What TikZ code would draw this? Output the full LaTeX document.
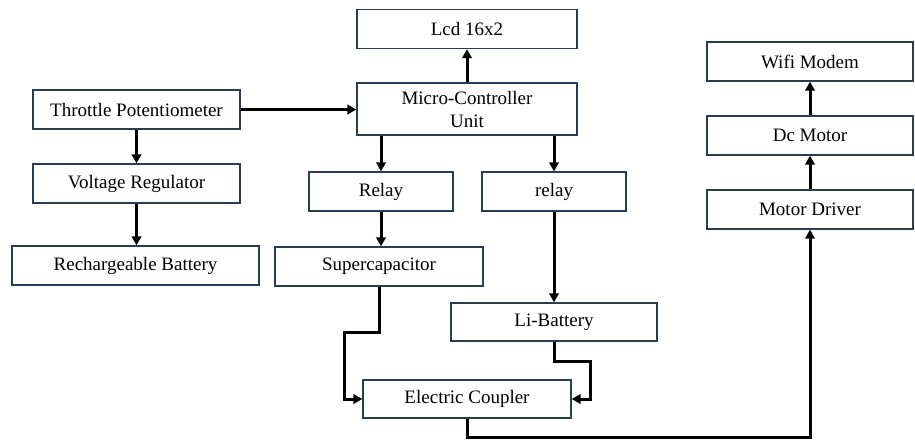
\documentclass[tikz,border=0pt]{standalone}
\usepackage{fontspec}
\setmainfont{Liberation Serif}
\definecolor{slateblue}{RGB}{40,62,80}
\usetikzlibrary{arrows.meta,positioning}

\begin{document}
\begin{tikzpicture}[x=1pt, y=-1pt,
    block/.style={draw=slateblue, line width=1.3pt, inner sep=0pt, align=center,
                  minimum height=39pt, font=\fontsize{19}{23}\selectfont},
    link/.style={draw=black, line width=3pt, -{Triangle[length=9pt,width=9.5pt]}}]
  \useasboundingbox (0,0) rectangle (915,439);

  % blocks
  \node[block, minimum width=220pt] (lcd) at (467,29) {Lcd 16x2};
  \node[block, minimum width=220pt, minimum height=52pt] (mcu) at (467,109) {Micro-Controller\\Unit};
  \node[block, minimum width=207pt] (throttle) at (136.5,109.5) {Throttle Potentiometer};
  \node[block, minimum width=207pt] (vreg) at (136.5,183.5) {Voltage Regulator};
  \node[block, minimum width=247pt] (rbatt) at (135.5,265.5) {Rechargeable Battery};
  \node[block, minimum width=144pt] (relayA) at (381,191.5) {Relay};
  \node[block, minimum width=144pt] (relayB) at (554,191.5) {relay};
  \node[block, minimum width=208pt] (supercap) at (379,266.5) {Supercapacitor};
  \node[block, minimum width=206pt, minimum height=38pt] (libatt) at (554,322) {Li-Battery};
  \node[block, minimum width=208pt, minimum height=38pt] (coupler) at (467,399) {Electric Coupler};
  \node[block, minimum width=206pt] (wifi) at (810,61.5) {Wifi Modem};
  \node[block, minimum width=206pt] (dcmotor) at (810,135.5) {Dc Motor};
  \node[block, minimum width=206pt] (driver) at (810,209.5) {Motor Driver};

  % connectors
  \draw[link] (throttle.east) -- (throttle.east -| mcu.west);
  \draw[link] (mcu.north) -- (lcd.south);
  \draw[link] (throttle.south) -- (vreg.north);
  \draw[link] (vreg.south) -- (vreg.south |- rbatt.north);
  \draw[link] (relayA.north |- mcu.south) -- (relayA.north);
  \draw[link] (relayB.north |- mcu.south) -- (relayB.north);
  \draw[link] (relayA.south) -- (relayA.south |- supercap.north);
  \draw[link] (relayB.south) -- (libatt.north);
  \draw[link] (supercap.south) -- ++(0,46) -- ++(-35,0) |- (coupler.west);
  \draw[link] (libatt.south) -- ++(0,20) -- ++(36,0) |- (coupler.east);
  \draw[link] (coupler.south) -- ++(0,19) -| (driver.south);
  \draw[link] (driver.north) -- (dcmotor.south);
  \draw[link] (dcmotor.north) -- (wifi.south);
\end{tikzpicture}
\end{document}
